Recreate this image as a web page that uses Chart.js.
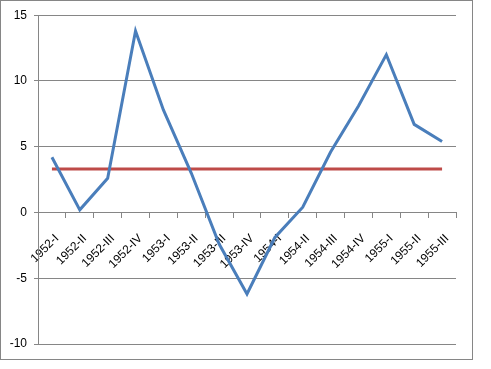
<!DOCTYPE html>
<html>
<head>
<meta charset="utf-8">
<script src="https://cdn.jsdelivr.net/npm/chart.js@4/dist/chart.umd.min.js"></script>
<style>
  html, body { margin: 0; padding: 0; background: #fff; }
  #box {
    position: absolute; left: 0; top: 0;
    width: 473px; height: 360px;
    box-sizing: border-box;
    border: 1px solid #868686;
  }
  canvas { display: block; }
</style>
</head>
<body>
<div id="box"><canvas id="chart" width="471" height="358"></canvas></div>
<script>
const quarters = ["1952-I", "1952-II", "1952-III", "1952-IV", "1953-I", "1953-II", "1953-III", "1953-IV",
  "1954-I", "1954-II", "1954-III", "1954-IV", "1955-I", "1955-II", "1955-III"];
const growth = [4.2, 0.2, 2.6, 13.8, 7.8, 3.0, -2.4, -6.2, -1.9, 0.4, 4.6, 8.1, 12.0, 6.7, 5.4];
const average = [3.3, 3.3, 3.3, 3.3, 3.3, 3.3, 3.3, 3.3, 3.3, 3.3, 3.3, 3.3, 3.3, 3.3, 3.3];
const yTicks = [-10, -5, 0, 5, 10, 15];

const gridGray = "#868686";
const font = { family: "Liberation Sans, Arial, sans-serif", size: 12 };

new Chart(document.getElementById("chart").getContext("2d"), {
  type: "line",
  data: {
    labels: quarters,
    datasets: [
      {
        data: growth,
        borderColor: "#4A7EBB",
        borderWidth: 3,
        pointRadius: 0,
        tension: 0,
        fill: false,
      },
      {
        data: average,
        borderColor: "#BE4B48",
        borderWidth: 3,
        pointRadius: 0,
        fill: false,
      },
    ],
  },
  options: {
    responsive: false,
    animation: false,
    layout: { padding: { left: 0, right: 16, top: 14, bottom: 15 } },
    plugins: {
      legend: { display: false }, // no legend in the original
      tooltip: { enabled: false },
    },
    scales: {
      x: {
        position: { y: 0 }, // axis crosses at zero
        offset: true,
        grid: {
          offset: true,
          drawOnChartArea: false,
          drawTicks: true,
          tickLength: 5,
          color: gridGray,
        },
        border: { color: gridGray, width: 1 },
        ticks: {
          minRotation: 45,
          maxRotation: 45,
          autoSkip: false,
          padding: 14,
          labelOffset: 5,
          color: "#000",
          font: font,
        },
      },
      y: {
        min: yTicks[0],
        max: yTicks[yTicks.length - 1],
        afterBuildTicks: (scale) => {
          scale.ticks = yTicks.map((v) => ({ value: v }));
        },
        afterFit: (scale) => {
          scale.width = 37;
        },
        grid: {
          color: gridGray,
          tickLength: 4,
          lineWidth: 1,
        },
        border: { color: gridGray, width: 1 },
        ticks: {
          padding: 7,
          color: "#000",
          font: font,
        },
      },
    },
  },
});
</script>
</body>
</html>
